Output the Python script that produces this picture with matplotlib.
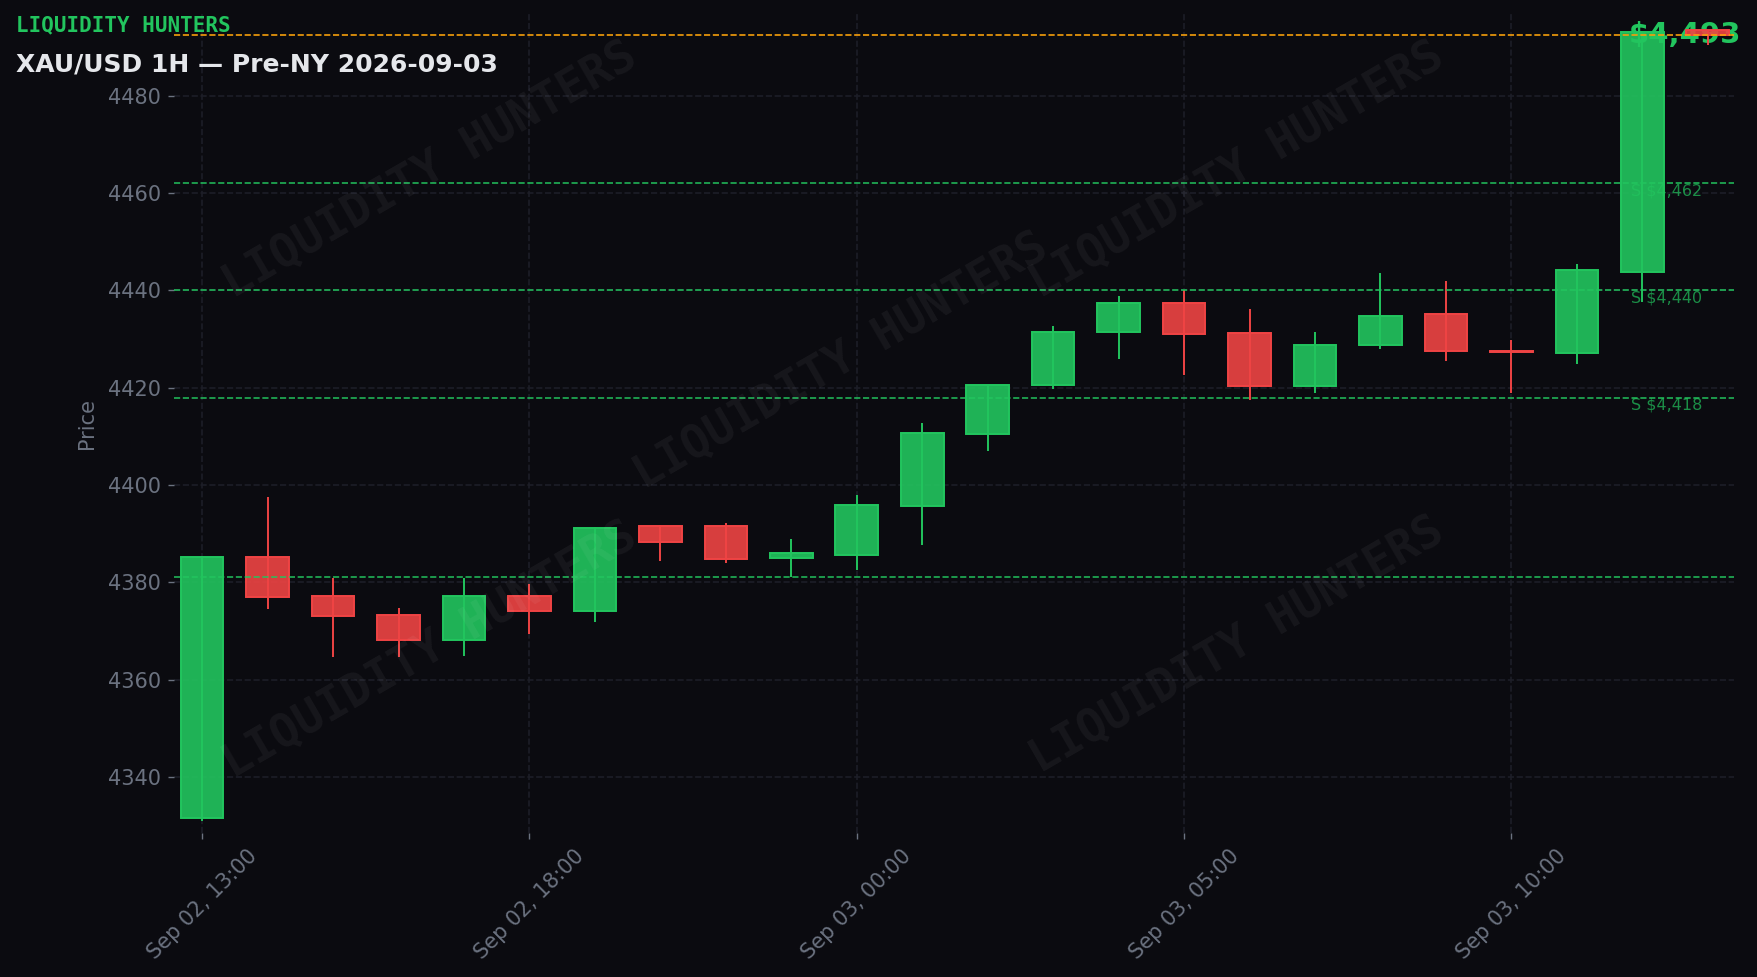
import matplotlib
matplotlib.use("Agg")
import matplotlib.pyplot as plt

# ---- data ----
opens  = [4331.5, 4385.2, 4377.2, 4373.3, 4368.2, 4377.2, 4374.1, 4391.5, 4391.5, 4385.0,
          4385.7, 4395.7, 4410.5, 4420.6, 4431.5, 4437.4, 4431.2, 4420.3, 4428.7, 4435.1,
          4427.6, 4427.1, 4443.9, 4493.6]
closes = [4385.2, 4377.0, 4373.1, 4368.2, 4377.2, 4374.1, 4391.2, 4388.3, 4384.8, 4386.0,
          4395.9, 4410.7, 4420.6, 4431.5, 4437.5, 4431.0, 4420.3, 4428.8, 4434.8, 4427.5,
          4427.3, 4444.3, 4493.2, 4492.6]
highs  = [4385.4, 4397.6, 4380.9, 4374.8, 4380.9, 4379.7, 4391.3, 4391.8, 4392.2, 4389.0,
          4398.0, 4412.8, 4420.6, 4432.6, 4438.9, 4440.2, 4436.1, 4431.4, 4443.5, 4441.9,
          4429.8, 4445.5, 4493.2, 4493.8]
lows   = [4331.0, 4374.5, 4364.6, 4364.6, 4364.8, 4369.3, 4371.8, 4384.4, 4383.9, 4381.1,
          4382.5, 4387.6, 4407.0, 4419.7, 4425.9, 4422.6, 4417.5, 4419.0, 4428.0, 4425.5,
          4419.0, 4424.9, 4437.6, 4490.4]

tick_positions = [0, 5, 10, 15, 20]
tick_labels = ["Sep 02, 13:00", "Sep 02, 18:00", "Sep 03, 00:00", "Sep 03, 05:00", "Sep 03, 10:00"]
y_ticks = [4340, 4360, 4380, 4400, 4420, 4440, 4460, 4480]

support_levels = [4462, 4440, 4418]
unlabeled_level = [4381]
last_price = 4492.6

brand = "LIQUIDITY HUNTERS"
title = "XAU/USD 1H \u2014 Pre-NY 2026-09-03"

# ---- style ----
BG = "#0b0b10"
GREEN = "#22c55e"
RED = "#ef4444"
ORANGE = "#f59e0b"
GRAY = "#6b7280"
GRID = "#1d1e27"

fig = plt.figure(figsize=(17.58, 9.77), dpi=100, facecolor=BG)
ax = fig.add_axes([0.099, 0.1473, 0.8873, 0.8379])
ax.set_facecolor(BG)

x = list(range(len(opens)))
up = [c >= o for o, c in zip(opens, closes)]
cols = [GREEN if u else RED for u in up]

ax.vlines(x, lows, highs, colors=cols, linewidth=1.4, zorder=2)
ax.bar(x, [c - o for o, c in zip(opens, closes)], bottom=opens, width=0.65,
       color=cols, alpha=0.9, edgecolor=cols, linewidth=1.3, zorder=3)
ax.bar(x, [c - o for o, c in zip(opens, closes)], bottom=opens, width=0.65,
       facecolor="none", edgecolor=cols, linewidth=1.3, zorder=3.1)

for lv in support_levels + unlabeled_level:
    ax.axhline(lv, color=GREEN, linestyle="--", linewidth=1.2, alpha=0.9, zorder=4)
for lv in support_levels:
    ax.text(0.934, lv, f"S ${lv:,.0f}", transform=ax.get_yaxis_transform(),
            color=GREEN, alpha=0.7, fontsize=11.5, ha="left", va="top", zorder=4)

ax.axhline(last_price, color=ORANGE, linestyle="--", linewidth=1.2, zorder=4)
ax.text(1.0045, 0.9755, f"${last_price:,.0f}", transform=ax.transAxes, clip_on=False,
        color=GREEN, fontsize=21, fontweight="bold", ha="right", va="center", zorder=1)

ax.set_xlim(-0.43, 23.40)
ax.set_ylim(4328.45, 4496.75)
ax.set_xticks(tick_positions)
ax.set_xticklabels(tick_labels, rotation=45, ha="center")
ax.set_yticks(y_ticks)
ax.tick_params(axis="both", colors=GRAY, labelsize=15, length=4.5, width=1.0, pad=5)
ax.grid(True, color=GRID, linestyle="--", linewidth=1.2, zorder=0)
ax.set_axisbelow(True)
for s in ax.spines.values():
    s.set_visible(False)
ax.set_ylabel("Price", color=GRAY, fontsize=15, labelpad=8)

# watermarks
for (px, py) in [(429.6, 170.4), (1236.6, 170.4), (840.8, 361), (429.6, 650), (1236.6, 645)]:
    fig.text(px / 1758, 1 - py / 977, brand, fontfamily="DejaVu Sans Mono", fontweight="bold",
             fontsize=33, color="white", alpha=0.05, rotation=30, rotation_mode="anchor",
             ha="center", va="center", zorder=10)

fig.text(16 / 1758, 1 - 25.3 / 977, brand, fontfamily="DejaVu Sans Mono", fontweight="bold",
         fontsize=15.0, color=GREEN, ha="left", va="center")
fig.text(16 / 1758, 1 - 64 / 977, title, fontweight="bold", fontsize=18.0,
         color="#e5e7eb", ha="left", va="center")

fig.savefig("out.png", dpi=100, facecolor=BG)
